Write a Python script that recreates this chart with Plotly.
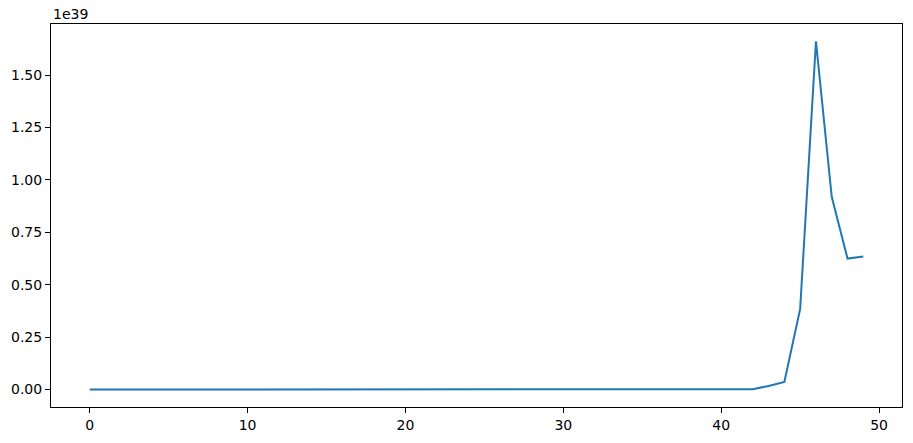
import plotly.graph_objects as go

x_vals = list(range(50))
y_vals = [
    0, 0, 0, 0, 0, 0, 0, 0, 0, 0,
    0, 0, 0, 0, 0, 0, 0, 0, 0, 0,
    0, 0, 0, 0, 0, 0, 0, 0, 0, 0,
    0, 0, 0, 0, 0, 0, 1e35, 5e35, 3.0e36, 1.5e36,
    1.0e36, 1.2e36, 2.0e36, 1.75e37, 3.6e37, 3.85e38, 1.661e39, 9.2e38, 6.25e38, 6.35e38,
]
y_tick_values = [0.0, 0.25e39, 0.5e39, 0.75e39, 1.0e39, 1.25e39, 1.5e39]
y_tick_labels = ["0.00", "0.25", "0.50", "0.75", "1.00", "1.25", "1.50"]
x_tick_values = [0, 10, 20, 30, 40, 50]

fig = go.Figure()
fig.add_trace(go.Scatter(x=x_vals, y=y_vals, mode="lines",
                         line=dict(color="#1f77b4", width=2)))

axis_common = dict(showline=True, linecolor="black", linewidth=1, mirror=True,
                   ticks="outside", ticklen=5, tickwidth=1, tickcolor="black",
                   showgrid=False, zeroline=False,
                   tickfont=dict(family="DejaVu Sans", size=14, color="black"))

ymin, ymax = min(y_vals), max(y_vals)
pad = (ymax - ymin) * 0.05
fig.update_layout(
    width=913, height=443,
    margin=dict(l=51, r=10, t=24, b=34),
    paper_bgcolor="white", plot_bgcolor="white",
    showlegend=False,
    xaxis=dict(range=[-2.45, 51.45], tickvals=x_tick_values, **axis_common),
    yaxis=dict(range=[ymin - pad, ymax + pad], tickvals=y_tick_values,
               ticktext=y_tick_labels, **axis_common),
    annotations=[dict(text="1e39", xref="paper", yref="paper", x=0, y=1,
                      xanchor="left", yanchor="bottom", showarrow=False, yshift=0,
                      font=dict(family="DejaVu Sans", size=14, color="black"))],
)
fig.write_html("out.html", config={"displayModeBar": False},
               post_script="document.body.style.margin='0';document.body.style.padding='0';")
